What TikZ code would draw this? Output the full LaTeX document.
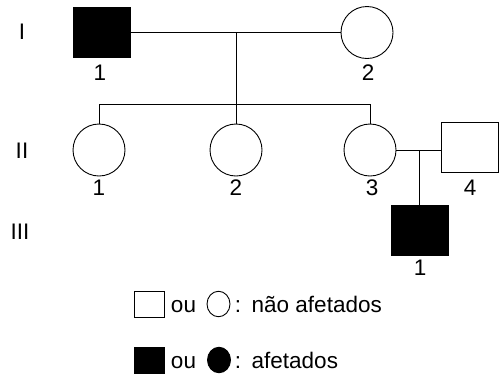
\documentclass[tikz,border=0pt]{standalone}
\usepackage{fontspec}
\setmainfont{Liberation Sans}
\usetikzlibrary{shapes.geometric}
\begin{document}
\begin{tikzpicture}[x=1bp,y=-1bp,
  line width=0.9bp,
  male/.style={draw,rectangle,minimum width=57bp,minimum height=50bp,inner sep=0pt},
  female/.style={draw,circle,minimum size=52bp,inner sep=0pt},
  aff/.style={fill=black},
  lbl/.style={anchor=base,inner sep=0pt,font=\fontsize{22.5bp}{27bp}\selectfont},
  lgsq/.style={draw,rectangle,minimum width=30bp,minimum height=26bp,inner sep=0pt},
  lgci/.style={draw,ellipse,minimum width=23bp,minimum height=25.5bp,inner sep=0pt},
]
\useasboundingbox (0,0) rectangle (501,374);
% generation labels
\node[lbl] (gI) at (22,39) {I};
\node[lbl] (gII) at (22,158) {II};
\node[lbl] (gIII) at (20,239) {III};
% generation I
\node[male,aff] (I1) at (101.5,32) {};
\node[female] (I2) at (367,32.5) {};
\node[lbl] (lI1) at (100,80) {1};
\node[lbl] (lI2) at (368,80) {2};
% generation II
\node[female] (II1) at (99,150) {};
\node[female] (II2) at (236,150) {};
\node[female] (II3) at (370,150) {};
\node[male] (II4) at (470,147) {};
\node[lbl] (lII1) at (99,195) {1};
\node[lbl] (lII2) at (236,195) {2};
\node[lbl] (lII3) at (372,195) {3};
\node[lbl] (lII4) at (470,195) {4};
% generation III
\node[male,aff] (III1) at (419.5,230) {};
\node[lbl] (lIII1) at (420,275) {1};
% connectors
\coordinate (m1) at (236,32.5);
\coordinate (s) at (236,104);
\draw (I1.east |- m1) -- (I2.west |- m1);
\draw (m1) -- (s);
\draw (II1.north) -- (II1.north |- s) -- (II3.north |- s) -- (II3.north);
\draw (s) -- (II2.north);
\coordinate (m2) at (419.5,150);
\draw (II3.east) -- (II3.east -| II4.west);
\draw (m2) -- (III1.north);
% legend
\node[lgsq] (L1) at (149.5,304) {};
\node[lbl] (ou1) at (183.5,312) {ou};
\node[lgci] (L2) at (218.5,304) {};
\node[lbl,anchor=base west] (t1) at (234.5,312) {:\hspace{10.5bp}não afetados};
\node[lgsq,aff] (L3) at (149.5,360) {};
\node[lbl] (ou2) at (183.5,368) {ou};
\node[lgci,aff] (L4) at (219,360) {};
\node[lbl,anchor=base west] (t2) at (234.5,368) {:\hspace{10.5bp}afetados};
\end{tikzpicture}
\end{document}
